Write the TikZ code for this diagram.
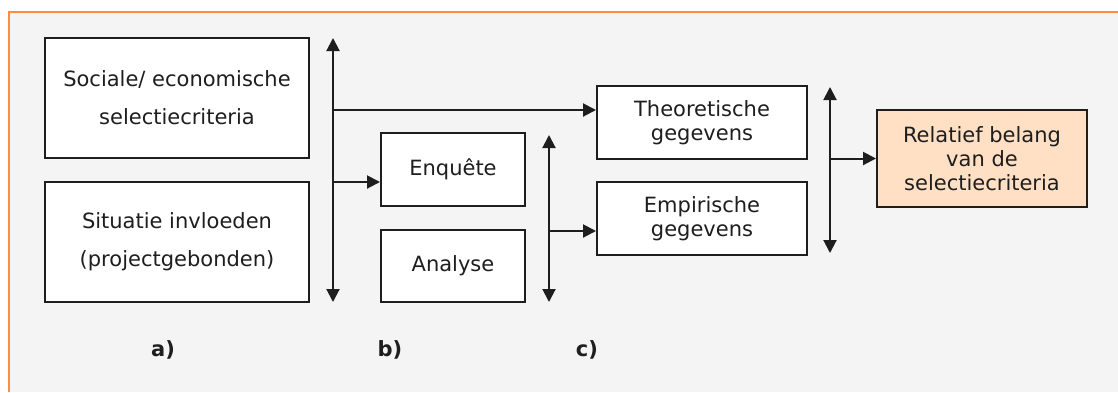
\documentclass[tikz,border=0pt]{standalone}
\usepackage{fontspec}
\setmainfont{DejaVu Sans}
\usetikzlibrary{arrows.meta}

\definecolor{framebg}{HTML}{F4F4F4}
\definecolor{frameline}{HTML}{FF8C42}
\definecolor{resultfill}{HTML}{FFE0C4}
\definecolor{ink}{HTML}{1E1E1E}

\tikzset{
  box/.style={draw=ink, line width=2pt, fill=white, align=center, inner sep=0pt,
    text=ink},
  widebox/.style={box, font=\fontsize{21}{38}\selectfont},
  connector/.style={ink, line width=2pt, -{Triangle[length=13pt, width=13pt]}},
  bothways/.style={ink, line width=2pt,
    {Triangle[length=13pt, width=13pt]}-{Triangle[length=13pt, width=13pt]}},
  steplabel/.style={font=\bfseries\fontsize{21}{24}\selectfont, text=ink},
}

\begin{document}
\begin{tikzpicture}[x=1pt, y=-1pt, font=\fontsize{21}{24}\selectfont]

\useasboundingbox (0,0) rectangle (1118,392);

% frame
\fill[framebg] (9,12) rectangle (1118,392);
\draw[frameline, line width=2.5pt] (9,392) -- (9,12) -- (1118,12);

% a) criteria
\node[widebox, minimum width=264pt, minimum height=120pt] (soc) at (177,98)
  {Sociale/ economische\\selectiecriteria};
\node[widebox, minimum width=264pt, minimum height=120pt] (sit) at (177,242)
  {Situatie invloeden\\(projectgebonden)};

% b) methods
\node[box, minimum width=144pt, minimum height=73pt] (enq) at (453,169.5) {Enquête};
\node[box, minimum width=144pt, minimum height=72pt] (ana) at (453,266) {Analyse};

% c) data
\node[box, minimum width=210pt, minimum height=73pt] (theo) at (702,122.5)
  {Theoretische\\gegevens};
\node[box, minimum width=210pt, minimum height=73pt] (emp) at (702,218.5)
  {Empirische\\gegevens};

% result
\node[box, fill=resultfill, minimum width=210pt, minimum height=97pt] (rel) at (982,158.5)
  {Relatief belang\\van de\\selectiecriteria};

% collecting bars
\coordinate (aTop) at (333,38);
\coordinate (aBot) at (333,302);
\coordinate (bTop) at (549,135);
\coordinate (bBot) at (549,302);
\coordinate (cTop) at (830,87);
\coordinate (cBot) at (830,253);
\draw[bothways] (aTop) -- (aBot);
\draw[bothways] (bTop) -- (bBot);
\draw[bothways] (cTop) -- (cBot);

% branches
\coordinate (aOut1) at (333,110);
\coordinate (aOut2) at (333,182);
\coordinate (bOut) at (549,231);
\coordinate (cOut) at (830,158.5);
\draw[connector] (aOut1) -- (aOut1 -| theo.west);
\draw[connector] (aOut2) -- (aOut2 -| enq.west);
\draw[connector] (bOut) -- (bOut -| emp.west);
\draw[connector] (cOut) -- (rel.west);

% step labels
\node[steplabel] (stepA) at (163,350) {a)};
\node[steplabel] (stepB) at (390,350) {b)};
\node[steplabel] (stepC) at (587,350) {c)};

\end{tikzpicture}
\end{document}
